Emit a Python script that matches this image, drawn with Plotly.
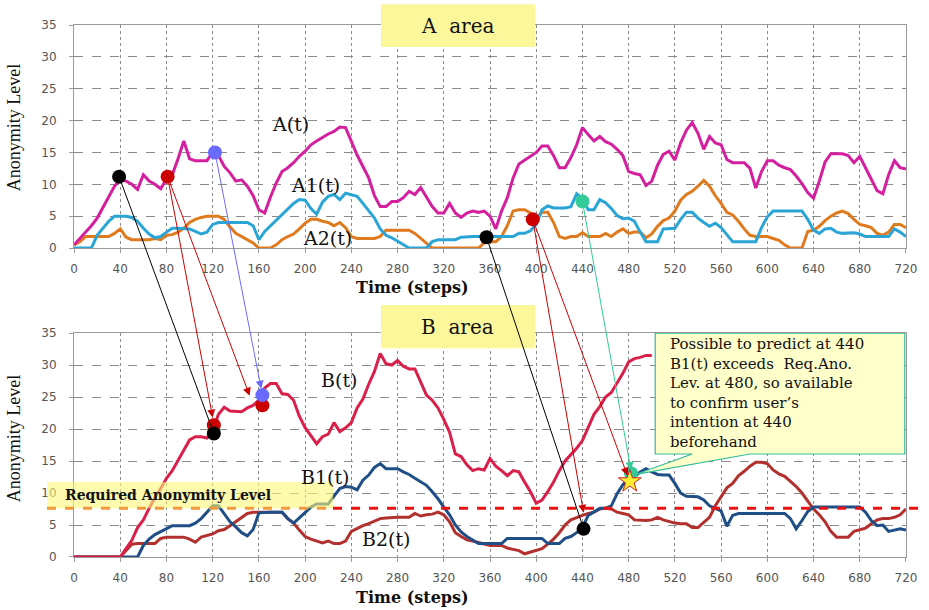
import plotly.graph_objects as go

# ---------------- data ----------------
STEPS = list(range(0, 725, 5))

A = [0.5,1.5,2.5,3.5,4.7,6.3,7.9,9.7,10.8,10.5,
     10,9.2,11.5,10.5,10,9.3,10.8,11.5,14,16.8,
     14,13.7,13.7,13.7,15,14.5,12.8,11.8,10.5,10.7,
     9.7,8.2,6,5.5,8,10.2,12,12.6,13.4,14.4,
     15.2,16.2,16.8,17.4,17.9,18.3,19,18.9,16.6,14.6,
     12.8,11,8.2,6.5,6.5,7.3,7.3,7.9,8.9,8.4,
     9.5,8,6.5,5.5,5.5,7,5.5,4.8,5.5,5.8,
     5.6,5.8,5,3,5.8,7.9,11,13.2,13.8,14.5,
     15,16,16,14.5,12.6,12.6,14.2,16.2,18.9,17.8,
     16.8,17.5,16.7,16.3,15.5,14.5,12,11.7,11.5,9.8,
     10.5,13,14.7,15.2,13.8,16.5,18.5,19.7,18,15.5,
     17.5,16.5,16.2,13.9,13.4,13.4,13.4,12.5,9.4,12,
     13.7,13.7,13,12.6,12.3,11.3,10.1,8.7,7.8,10.5,
     13.5,14.8,14.8,14.8,14.5,13.4,14.4,12.5,10.8,9,
     8.5,11.5,13.7,12.6,12.4]

A1 = [0,0,0,0,2,3.1,4.2,5,5,5,
      4.8,4.2,3.1,2.2,1.6,1.8,2.5,3.1,3.1,3.1,
      3,2.6,2.2,2.5,3.7,4,4,4,4,4,
      4,3.5,1.3,2.6,3.5,4.4,5.3,6.2,7,7.6,
      7.5,6.2,5.3,7.2,8.1,8.4,7.6,8.6,8.4,8.1,
      7,5.8,4.7,3,2,1.6,1.1,0.6,0,0,
      0,0,1,1.3,1.3,1.3,1.3,1.7,1.8,1.8,
      1.8,1.8,1.8,1.8,1.8,1.8,1.8,2.3,2.3,2.7,
      3.7,6,6.6,6.3,6.3,6.3,6.5,8.5,7.8,6,
      6,7.6,7.1,6.2,5.1,4.6,4.7,4.2,2.5,1,
      1,1,3,3.1,3.1,4.5,5.6,5.6,4.7,4,
      3.4,3.9,3.2,2.1,1,1,1,1,1,3.2,
      4.9,5.8,5.8,5.8,5.8,5.8,5.8,4.5,2.8,2.3,
      3,3.1,2.5,2.3,2.3,2.4,2.2,1.8,1.8,1.8,
      1.8,1.8,3,2.5,1.8]

A2 = [0.5,1,1.8,1.8,1.8,1.8,1.8,2.3,3,1.7,
      1.3,1.3,1.3,1.3,1.5,1.3,2,2.1,2.5,3.1,
      4,4.5,4.8,5,5,5,4.5,3.3,2.3,1.8,
      1.3,0.8,0,0,0,0.5,1.3,1.8,2.2,3,
      3.9,4.5,4.5,4.2,4,3.5,4,3.2,1.8,1.5,
      1.5,1.5,1.5,1.8,2.8,2.8,2.8,2.8,2.8,2.3,
      1.5,0.8,0,0,0,0,0,0,0,0,
      0,0.8,1,1,1.8,3.5,5.8,6,6,5.5,
      4.7,5.6,5.6,4,1.8,1.5,1.8,1.8,2.4,1.8,
      1.8,1.8,2.3,1.8,2.5,3,2.3,2.5,2.5,1.6,
      2.2,3.4,4.3,4.7,5.8,7.5,8.4,8.9,9.7,10.6,
      9.7,8.2,7,5.6,5.2,4.2,3,2,1.8,1.8,
      1.8,1.5,1.2,0.5,0,0,0,2.6,2.8,3.4,
      4.3,5,5.5,5.8,5.4,4.5,3.7,3.5,3.2,2.3,
      2,2.5,3.7,3.7,3.2]

B = [0,0,0,0,0,0,0,0,0,1.3,
     2.6,4.6,5.8,7.6,9.3,10.7,12.3,13.5,15.1,16.7,
     18.3,18.8,18.8,18.6,19.8,22.3,23.4,22.8,22.7,22.7,
     23.3,23.7,24.5,26.4,27.1,27.1,25.5,25.4,24.5,22,
     20.2,19,17.7,18.8,19.2,21,19.6,20.2,21,23.3,
     24.7,27,29,31.8,30.2,30,30.7,29.8,29.4,29.4,
     27.3,25.3,24.5,23.3,21.5,19.5,16.1,15.7,14.4,13.5,
     13.8,13.6,15.4,14.2,13.5,12.7,13.5,13.3,11.7,10.2,
     8.4,8.9,10.2,11.7,13.5,15,16,17,18.2,20.3,
     22.3,23.5,25,25.7,27.1,28.7,30.5,31,31.2,31.5,
     31.5]

B1 = [0,0,0,0,0,0,0,0,0,0,
      0,0,1.8,2.8,3.5,4,4.5,4.9,4.9,4.9,
      4.9,5.3,6,7,8,8,6.8,5.5,4.7,3.8,
      3.3,4.3,6.9,7,7,7,7,6,5.3,6.1,
      7,7.8,8.3,8.3,8.3,9.5,10.7,11,10.9,10.5,
      12,12.8,14,14.6,13.8,13.8,13.8,13.3,12.9,12.3,
      11.8,11.2,10.2,9.1,7.8,6.6,5,3.9,3.2,2.7,
      2.1,2.1,2.1,2.1,2.1,2.9,2.9,2.9,2.9,2.9,
      2.9,2.9,2.1,2.1,2.1,2.9,3.2,3.8,4.6,6.5,
      7,7.6,7.6,8,9.9,11.3,12.2,12.5,13.3,13.8,
      13.3,12.9,12.8,12.8,11.5,10,9.5,9.4,9.4,8.9,
      8,7.6,7.2,4.8,6.5,6.8,6.8,6.8,6.8,6.8,
      6.8,6.8,6.8,6.8,6,4.4,5.7,7.1,7.8,7.8,
      7.8,7.8,7.8,7.8,7.8,7.8,7.8,7,5.7,4.9,
      5,4,4.2,4.4,4.2]

B2 = [0,0,0,0,0,0,0,0,0,1,
      2,2.1,2.1,2.1,2.1,2.9,3.1,3.1,3.1,3.1,
      2.8,2.3,3.1,3.4,3.6,4.1,4.3,4.9,5.5,6.2,
      6.8,7,7,7,7,7,7,6,5.3,4.2,
      3.2,2.8,2.5,2.2,2.5,2.1,2.1,2.5,4,4.5,
      4.9,5.2,5.6,6,6.1,6.2,6.2,6.2,6.2,6.8,
      6.4,6.6,6.7,7,6.6,5.5,3.8,3.2,2.7,2.5,
      2.3,2.1,1.8,1.8,1.8,1.4,1.2,1,0.5,0.8,
      1,1.3,2,2.8,3.8,5,5.8,6.2,6.5,6.8,
      7,7.5,7.6,7.5,7,6.8,6.6,5.8,5.7,5.7,
      5.8,6.2,5.8,5.5,5.3,5.2,5.2,4.6,4.6,5.4,
      6.2,8,9.4,10.8,11.5,12.7,13.4,14.2,14.8,14.8,
      14.6,13.6,13,12.6,11.8,11,10,8.8,7.5,6.6,
      5.5,4,3.1,3.1,3.1,4,4.2,4.5,5.2,5.8,
      6,6,6.2,6.6,7.5]

REQ_LEVEL = 7.6
X_TICKS = list(range(0, 721, 40))
Y_TICKS = list(range(0, 36, 5))

# marked points: (step, value, colour)
TOP_MARKS = [(39, 11.2, "#000000"), (81, 11.2, "#cc0000"), (122, 15.0, "#6a6aff"),
             (357, 1.7, "#000000"), (397, 4.5, "#cc0000"), (440, 7.3, "#33cc99")]
BOT_MARKS = [(121, 20.6, "#cc0000"), (121, 19.3, "#000000"), (163, 23.7, "#cc0000"),
             (163, 25.3, "#6a6aff"), (441, 4.4, "#000000"), (482, 13.1, "#33cc99")]
# arrows: (tail step, tail value in A area, head step, head value in B area, colour, head?)
ARROWS = [(39, 11.2, 121, 19.3, "#000000", False),
          (81, 11.2, 120, 21.8, "#cc0000", True),
          (81, 11.2, 152, 25.2, "#cc0000", True),
          (122, 15.0, 162, 26.3, "#6a6aff", True),
          (357, 1.7, 441, 4.4, "#000000", False),
          (397, 4.5, 441, 6.9, "#cc0000", True),
          (397, 4.5, 479, 12.7, "#cc0000", True),
          (440, 7.3, 482, 13.6, "#33cc99", True)]

# ---------------- layout constants ----------------
YR = [0, 35]
XR = [0, 720]
DOM_X = [0.0797, 0.9752]
DOM_TOP = [0.5934, 0.959]
DOM_BOT = [0.0869, 0.454]


def top_to_bottom(v):
    p = DOM_TOP[0] + (v - YR[0]) / (YR[1] - YR[0]) * (DOM_TOP[1] - DOM_TOP[0])
    return YR[0] + (p - DOM_BOT[0]) / (DOM_BOT[1] - DOM_BOT[0]) * (YR[1] - YR[0])


fig = go.Figure()

LW = 3
fig.add_trace(go.Scatter(x=STEPS, y=A2, mode="lines", line=dict(color="#e07a1f", width=LW), xaxis="x", yaxis="y"))
fig.add_trace(go.Scatter(x=STEPS, y=A1, mode="lines", line=dict(color="#2aa5d6", width=LW), xaxis="x", yaxis="y"))
fig.add_trace(go.Scatter(x=STEPS, y=A, mode="lines", line=dict(color="#d41f9e", width=LW), xaxis="x", yaxis="y"))
fig.add_trace(go.Scatter(x=STEPS, y=B2, mode="lines", line=dict(color="#b2302e", width=LW), xaxis="x2", yaxis="y2"))
fig.add_trace(go.Scatter(x=STEPS, y=B1, mode="lines", line=dict(color="#1f4f86", width=LW), xaxis="x2", yaxis="y2"))
fig.add_trace(go.Scatter(x=STEPS[:len(B)], y=B, mode="lines", line=dict(color="#d9204a", width=LW), xaxis="x2", yaxis="y2"))

fig.add_trace(go.Scatter(x=[m[0] for m in TOP_MARKS], y=[m[1] for m in TOP_MARKS], mode="markers",
                         marker=dict(size=14, color=[m[2] for m in TOP_MARKS]), cliponaxis=False,
                         xaxis="x", yaxis="y"))
fig.add_trace(go.Scatter(x=[m[0] for m in BOT_MARKS], y=[m[1] for m in BOT_MARKS], mode="markers",
                         marker=dict(size=14, color=[m[2] for m in BOT_MARKS]), cliponaxis=False,
                         xaxis="x2", yaxis="y2"))
fig.add_trace(go.Scatter(x=[481], y=[11.8], mode="markers",
                         marker=dict(size=17, symbol="star", color="#ffee33", line=dict(color="#cc2222", width=1)),
                         xaxis="x2", yaxis="y2"))

annotations = []
for tx, tv, hx, hv, col, head in ARROWS:
    annotations.append(dict(x=hx, y=hv, xref="x2", yref="y2", ax=tx, ay=top_to_bottom(tv),
                            axref="x2", ayref="y2", text="", showarrow=True,
                            arrowhead=2 if head else 0, arrowsize=1.6, arrowwidth=1,
                            arrowcolor=col, standoff=0, startstandoff=0))

SERIF = "DejaVu Serif"
labels = [("A(t)", 187, 19.5, "x", "y"), ("A1(t)", 209, 9.9, "x", "y"), ("A2(t)", 219, 1.6, "x", "y"),
          ("B(t)", 229, 27.7, "x2", "y2"), ("B1(t)", 218, 12.5, "x2", "y2"), ("B2(t)", 270, 2.8, "x2", "y2")]
for t, x, y, xr, yr in labels:
    annotations.append(dict(x=x, y=y, xref=xr, yref=yr, text=t, showarrow=False,
                            font=dict(family=SERIF, size=19, color="#111")))

annotations += [
    dict(x=0.492, y=0.957, xref="paper", yref="paper", xanchor="center", yanchor="middle",
         text="A  area", showarrow=False, font=dict(family=SERIF, size=20, color="#111")),
    dict(x=0.492, y=0.464, xref="paper", yref="paper", xanchor="center", yanchor="middle",
         text="B  area", showarrow=False, font=dict(family=SERIF, size=20, color="#111")),
    dict(x=0.4435, y=0.5295, xref="paper", yref="paper", xanchor="center", yanchor="middle",
         text="<b>Time (steps)</b>", showarrow=False, font=dict(family=SERIF, size=16, color="#111")),
    dict(x=0.4435, y=0.0213, xref="paper", yref="paper", xanchor="center", yanchor="middle",
         text="<b>Time (steps)</b>", showarrow=False, font=dict(family=SERIF, size=16, color="#111")),
    dict(x=0.0151, y=0.79, xref="paper", yref="paper", xanchor="center", yanchor="middle",
         text="Anonymity Level", textangle=-90, showarrow=False,
         font=dict(family="Liberation Serif", size=18, color="#111")),
    dict(x=0.0151, y=0.28, xref="paper", yref="paper", xanchor="center", yanchor="middle",
         text="Anonymity Level", textangle=-90, showarrow=False,
         font=dict(family="Liberation Serif", size=18, color="#111")),
    dict(x=0.0678, y=0.1885, xref="paper", yref="paper", xanchor="left", yanchor="middle",
         text="<b>Required Anonymity Level</b>",
         showarrow=False, font=dict(family=SERIF, size=14, color="#111")),
    dict(x=514, y=35.0, xref="x2", yref="y2", xanchor="left", yanchor="top", align="left",
         text="Possible to predict at 440<br>B1(t) exceeds  Req.Ano.<br>Lev. at 480, so available<br>"
              "to confirm user’s<br>intention at 440<br>beforehand",
         showarrow=False, font=dict(family=SERIF, size=15, color="#111")),
]

req_dom = (REQ_LEVEL - YR[0]) / (YR[1] - YR[0])
shapes = [
    dict(type="rect", xref="paper", yref="paper", x0=0.41, x1=0.576, y0=0.923, y1=0.993,
         fillcolor="#fdf79c", line=dict(width=0), layer="above"),
    dict(type="rect", xref="paper", yref="paper", x0=0.41, x1=0.576, y0=0.429, y1=0.5,
         fillcolor="#fdf79c", line=dict(width=0), layer="above"),
    dict(type="rect", xref="paper", yref="paper", x0=0.0506, x1=0.3585, y0=0.167, y1=0.21,
         fillcolor="rgba(253,247,120,0.6)", line=dict(width=0), layer="above"),
    dict(type="line", xref="paper", yref="y2 domain", x0=0.0506, x1=0.3585, y0=req_dom, y1=req_dom,
         line=dict(color="#f39a3a", width=3, dash="dash"), layer="above"),
    dict(type="line", xref="paper", yref="y2 domain", x0=0.3585, x1=0.993, y0=req_dom, y1=req_dom,
         line=dict(color="#ee1111", width=3, dash="dash"), layer="above"),
    dict(type="path", xref="x2", yref="y2",
         path="M 503,35 L 719,35 L 719,16.1 L 585,16.1 L 486,12.9 L 535,16.1 L 503,16.1 Z",
         fillcolor="#ffffcc", line=dict(color="#33bb99", width=1.2), layer="above"),
]

axis_common = dict(range=XR, tickvals=X_TICKS, showgrid=True, griddash="dot", gridcolor="#8a8a8a",
                   gridwidth=1, zeroline=False, showline=True, linecolor="#9a9a9a", mirror=True,
                   ticks="outside", ticklen=4, tickcolor="#9a9a9a", ticklabelstandoff=6,
                   automargin=False,
                   tickfont=dict(family="DejaVu Sans", size=12, color="#555"), domain=DOM_X)
yaxis_common = dict(range=YR, tickvals=Y_TICKS, showgrid=True, griddash="dash", gridcolor="#8a8a8a",
                    gridwidth=1, zeroline=False, showline=True, linecolor="#9a9a9a", mirror=True,
                    ticks="outside", ticklen=4, tickcolor="#9a9a9a", ticklabelstandoff=10,
                    automargin=False,
                    tickfont=dict(family="DejaVu Sans", size=12, color="#555"))

fig.update_layout(
    width=929, height=610, autosize=False,
    margin=dict(l=0, r=0, t=0, b=0, autoexpand=False),
    paper_bgcolor="white", plot_bgcolor="white",
    showlegend=False,
    xaxis=dict(anchor="y", **axis_common),
    yaxis=dict(anchor="x", domain=DOM_TOP, **yaxis_common),
    xaxis2=dict(anchor="y2", **axis_common),
    yaxis2=dict(anchor="x2", domain=DOM_BOT, **yaxis_common),
    annotations=annotations,
    shapes=shapes,
)

fig.write_html("out.html", config={"displayModeBar": False},
               post_script="document.body.style.margin='0px';")
